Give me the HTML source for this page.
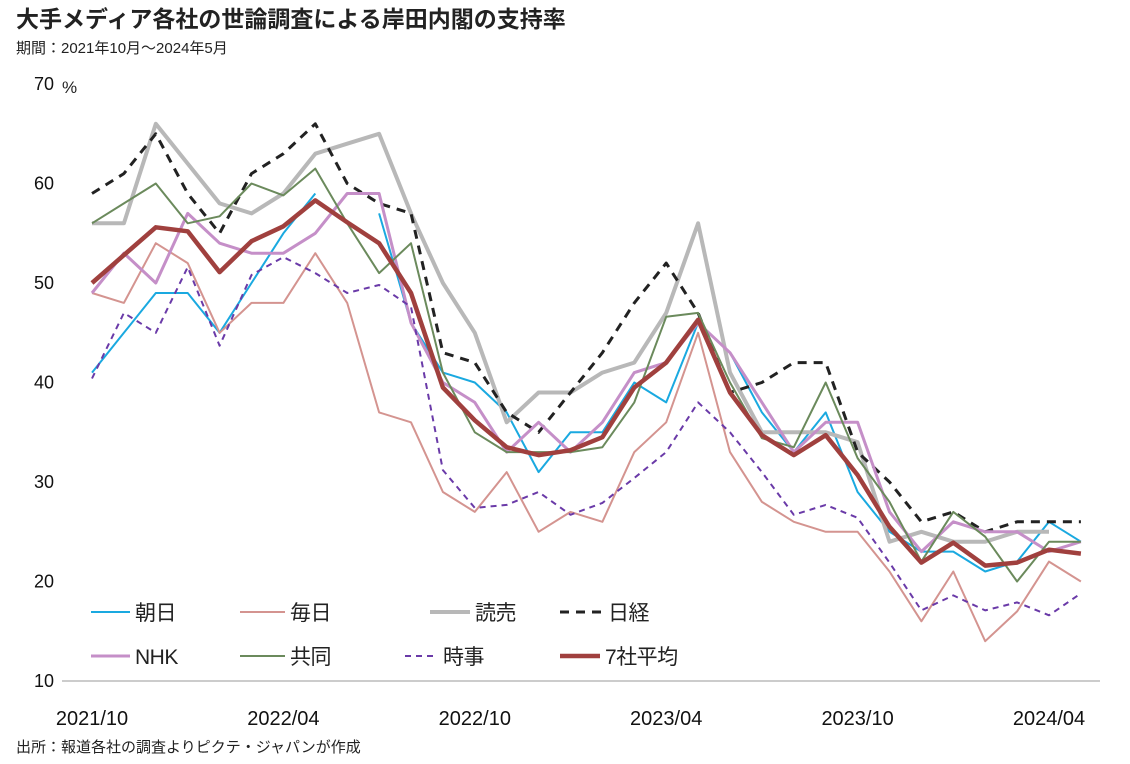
<!DOCTYPE html>
<html><head><meta charset="utf-8"><style>
body{margin:0;background:#fff;width:1130px;height:759px;overflow:hidden;font-family:"Liberation Sans","Noto Sans CJK JP",sans-serif;}
svg text{font-family:"Liberation Sans","Noto Sans CJK JP",sans-serif;fill:#222;}
</style></head><body>
<svg id="chart" width="1130" height="759">
<text x="16" y="27" font-size="23" font-weight="bold">大手メディア各社の世論調査による岸田内閣の支持率</text>
<text x="16" y="53" font-size="15">期間：2021年10月～2024年5月</text>
<text x="62" y="93" font-size="17">%</text>
<text x="16" y="752" font-size="15">出所：報道各社の調査よりピクテ・ジャパンが作成</text>
<line x1="62" y1="681" x2="1100" y2="681" stroke="#bbb" stroke-width="1.5"/>
<g id="yt"></g><g id="xt"></g><g id="lines"></g><g id="legend"></g>
</svg>
<script>
const yTicks=[10,20,30,40,50,60,70];
const xTickLabels=["2021/10","2022/04","2022/10","2023/04","2023/10","2024/04"];
const asahi=[41,45,49,49,45,50,55,59,null,57,46,41,40,37,31,35,35,40,38,46,43,37,33,37,29,25,23,23,21,22,26,24];
const mainichi=[49,48,54,52,45,48,48,53,48,37,36,29,27,31,25,27,26,33,36,45,33,28,26,25,25,21,16,21,14,17,22,20];
const yomiuri=[56,56,66,62,58,57,59,63,64,65,57,50,45,36,39,39,41,42,47,56,41,35,35,35,34,24,25,24,24,25,25,null];
const nikkei=[59,61,65,59,55,61,63,66,60,58,57,43,42,37,35,39,43,48,52,47,39,40,42,42,33,30,26,27,25,26,26,26];
const nhk=[49,53,50,57,54,53,53,55,59,59,46,40,38,33,36,33,36,41,42,46,43,38,33,36,36,27,23,26,25,25,23,24];
const kyodo=[56,58,60,56,56.7,60,58.8,61.5,56,51,54,41,35,33,33,33,33.5,38,46.6,47,40,34.4,33.5,40,32.4,28,22,27,24.5,20,24,24];
const jiji=[40.4,47,45,51.6,43.7,50.8,52.6,51,49,49.8,47.6,31.2,27.4,27.7,29,26.7,27.9,30.4,33,38,35,31,26.7,27.7,26.4,21.9,17.1,18.6,17.1,17.9,16.6,18.8];
const avg7=[50,52.8,55.6,55.2,51.1,54.2,55.7,58.3,56.1,54,49,39.5,36.2,33.5,32.7,33.2,34.5,39.5,42,46.3,39,34.7,32.7,34.7,30.7,25.5,21.9,23.9,21.6,21.9,23.2,22.8];
const NS="http://www.w3.org/2000/svg";
const x=i=>92+i*31.9;
const y=v=>681-(v-10)*9.95;
function mk(t,a,p){const e=document.createElementNS(NS,t);for(const k in a)e.setAttribute(k,a[k]);p.appendChild(e);return e;}
const yt=document.getElementById('yt');
yTicks.forEach(v=>{const t=mk('text',{x:54,y:y(v)+6,'font-size':18,'text-anchor':'end',style:'fill:#111'},yt);t.textContent=v;

});
const xt=document.getElementById('xt');
xTickLabels.forEach((l,k)=>{const t=mk('text',{x:x(k*6),y:725,'font-size':20,'text-anchor':'middle',style:'fill:#111'},xt);t.textContent=l;

});
const series=[
 {n:'朝日',d:asahi,c:'#1aa9e0',w:2,da:'',id:'asahi'},
 {n:'毎日',d:mainichi,c:'#d49490',w:2,da:'',id:'mainichi'},
 {n:'読売',d:yomiuri,c:'#b8b8b8',w:4,da:'',id:'yomiuri'},
 {n:'日経',d:nikkei,c:'#222',w:3,da:'9 7',id:'nikkei'},
 {n:'NHK',d:nhk,c:'#c58fc8',w:3,da:'',id:'nhk'},
 {n:'共同',d:kyodo,c:'#6b8a5c',w:2,da:'',id:'kyodo'},
 {n:'時事',d:jiji,c:'#6a3aa8',w:2,da:'6 5',id:'jiji'},
 {n:'7社平均',d:avg7,c:'#a0403e',w:4.5,da:'',id:'average'}];
const lg=document.getElementById('lines');
series.forEach(s=>{let p='',pen=false;s.d.forEach((v,i)=>{if(v==null){pen=false;return;}p+=(pen?'L':'M')+x(i).toFixed(1)+' '+y(v).toFixed(1);pen=true;});
const e=mk('path',{d:p,fill:'none',stroke:s.c,'stroke-width':s.w,'stroke-dasharray':s.da,'stroke-linejoin':'round'},lg);

});
const pos=[[91,135,612],[240,290,612],[430,475,612],[560,608,612],[91,135,656],[240,290,656],[405,443,656],[560,605,656]];
const leg=document.getElementById('legend');
series.forEach((s,i)=>{const [lx,tx,ly]=pos[i];const g=mk('g',{},leg);


mk('line',{x1:lx,y1:ly,x2:tx-5,y2:ly,stroke:s.c,'stroke-width':s.w,'stroke-dasharray':s.da},g);
const t=mk('text',{x:tx,y:ly+8,'font-size':21,'letter-spacing':'-0.5'},g);t.textContent=s.n;});
</script>
</body></html>
